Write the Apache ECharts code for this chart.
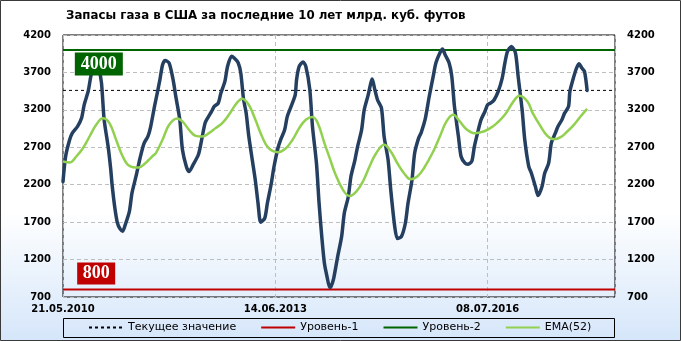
<!DOCTYPE html>
<html>
<head>
<meta charset="utf-8">
<script src="https://cdn.jsdelivr.net/npm/echarts@6/dist/echarts.min.js"></script>
<style>
html,body{margin:0;padding:0;background:#fff}
#c{width:681px;height:341px}
</style>
</head>
<body>
<div id="c"></div>
<script>
// x axis: week index counted from 21.05.2010
const tickWeeks = [0, 160, 320];
const tickLabels = ['21.05.2010', '14.06.2013', '08.07.2016'];
const yTicks = [700, 1200, 1700, 2200, 2700, 3200, 3700, 4200];

// Gas storage, bcf (navy line)
const storageWeek = [0,2,5,7,11,14,16,19,21,23,25,27,29,31,34,36,37,39,41,43,45,47,50,52,55,58,61,64,66,69,70,73,75,77,80,83,85,88,90,93,95,98,102,104,107,109,112,114,117,119,122,124,127,129,132,134,136,138,140,143,145,147,149,152,154,157,159,162,164,167,169,172,175,176,178,181,183,186,188,191,193,195,197,199,201,202,204,207,210,212,215,217,220,222,225,227,230,232,233,235,237,240,242,245,247,250,252,255,258,260,263,265,268,270,273,276,279,281,284,286,288,291,293,295,298,300,303,305,308,310,313,315,318,320,323,325,328,331,333,335,338,341,343,346,348,351,353,356,358,361,363,366,368,371,373,376,378,381,382,385,387,389,391,393,395];
const storageBcf = [2240,2580,2800,2890,2980,3090,3270,3450,3650,3780,3840,3750,3560,3070,2710,2400,2200,1900,1690,1610,1580,1670,1840,2090,2310,2550,2750,2845,2970,3250,3335,3600,3800,3860,3825,3600,3380,3070,2670,2440,2376,2465,2600,2755,3020,3090,3180,3246,3290,3424,3580,3780,3915,3892,3830,3690,3350,3160,2850,2490,2250,1950,1700,1750,1950,2220,2440,2690,2800,2930,3110,3250,3400,3600,3780,3840,3780,3470,2980,2490,1950,1510,1150,970,828,840,950,1240,1510,1820,2040,2310,2530,2710,2930,3200,3400,3560,3611,3470,3335,3223,2844,2532,2131,1640,1480,1506,1685,1952,2264,2621,2822,2900,3080,3379,3647,3825,3959,4013,3937,3825,3647,3246,2844,2577,2487,2474,2510,2710,2933,3067,3179,3268,3299,3335,3446,3625,3825,3981,4048,3959,3647,3201,2800,2443,2354,2175,2055,2175,2354,2487,2755,2889,2978,3067,3156,3246,3446,3647,3758,3816,3758,3714,3460];

// EMA(52) (green line)
const emaWeek = [0,5,10,15,20,25,30,35,40,45,50,57,62,64,68,70,75,80,86,90,95,100,105,110,115,120,125,130,135,140,145,150,155,162,168,173,178,183,188,192,197,201,205,211,216,221,226,231,236,242,247,252,257,262,267,272,279,284,289,294,299,304,310,317,322,327,333,339,344,350,354,360,365,370,375,380,385,390,395];
const emaBcf = [2510,2496,2577,2688,2844,3000,3089,3023,2800,2577,2452,2429,2487,2520,2590,2621,2800,3000,3085,3045,2933,2853,2844,2889,2956,3023,3134,3268,3350,3268,3067,2844,2688,2635,2688,2800,2956,3067,3103,3023,2755,2555,2354,2131,2050,2108,2242,2443,2621,2733,2643,2487,2354,2273,2309,2420,2643,2844,3045,3134,3045,2942,2889,2911,2956,3023,3134,3300,3390,3312,3156,2978,2853,2808,2835,2911,3000,3112,3214];

// Reference levels
const axisEndWeek = 416;
const currentValue = 3460;
const level1 = 800;
const level2 = 4000;
const labelWeek = 27;

const zip = (a, b) => a.map((x, i) => [x, b[i]]);

const chart = echarts.init(document.getElementById('c'), null, {renderer: 'canvas'});
const axisFont = {fontFamily: 'DejaVu Sans', fontWeight: 'bold', fontSize: 10, color: '#000'};
const gridStyle = {color: '#BEBEBE', type: [4, 3], width: 1};
const yMin = yTicks[0], yMax = yTicks[yTicks.length - 1], yStep = yTicks[1] - yTicks[0];

chart.setOption({
  animation: false,
  backgroundColor: new echarts.graphic.LinearGradient(0, 0, 0, 1, [
    {offset: 0, color: '#ffffff'}, {offset: 0.62, color: '#ffffff'}, {offset: 1, color: '#D5E6FA'}]),
  graphic: [
    {type: 'rect', z: 100, silent: true, shape: {x: 0.5, y: 0.5, width: 680, height: 340},
     style: {fill: null, stroke: '#3a3a3a', lineWidth: 1}},
    {type: 'rect', z: 100, silent: true, shape: {x: 63.5, y: 318.5, width: 551, height: 19},
     style: {fill: null, stroke: '#000', lineWidth: 1}}
  ],
  title: {
    text: 'Запасы газа в США за последние 10 лет млрд. куб. футов',
    left: 66, top: 10, padding: 0,
    textStyle: {fontFamily: 'DejaVu Sans', fontWeight: 'bold', fontSize: 11.8, color: '#000'}
  },
  legend: {
    left: 88, top: 322, padding: 0, itemGap: 24, itemWidth: 34, itemHeight: 8,
    itemStyle: {opacity: 0},
    data: ['Текущее значение', 'Уровень-1', 'Уровень-2', 'EMA(52)'],
    textStyle: {fontFamily: 'DejaVu Sans', fontSize: 11, color: '#000'}
  },
  grid: {left: 63, right: 66, top: 35, bottom: 44, show: true, borderColor: '#000', borderWidth: 1, containLabel: false},
  xAxis: {
    type: 'value', min: 0, max: axisEndWeek, interval: tickWeeks[1],
    axisLine: {show: false},
    axisTick: {show: false},
    axisLabel: {margin: 7, ...axisFont, showMaxLabel: false,
      formatter: v => tickLabels[tickWeeks.indexOf(v)] || ''},
    splitLine: {show: true, lineStyle: gridStyle}
  },
  yAxis: [
    {type: 'value', min: yMin, max: yMax, position: 'left',
     axisLine: {show: false}, axisTick: {show: false, customValues: yTicks},
     axisLabel: {customValues: yTicks, margin: 12, ...axisFont, formatter: v => String(v)},
     splitLine: {show: false}},
    {type: 'value', min: yMin, max: yMax, position: 'right',
     axisLine: {show: false}, axisTick: {show: false, customValues: yTicks},
     axisLabel: {customValues: yTicks, margin: 12, ...axisFont, formatter: v => String(v)},
     splitLine: {show: false}},
    // gridline-only axis: same span as the value axis, measured from its minimum
    {type: 'value', min: 0, max: yMax - yMin, interval: yStep, position: 'left', show: true,
     axisLine: {show: false}, axisTick: {show: false}, axisLabel: {show: false},
     splitLine: {show: true, lineStyle: gridStyle}}
  ],
  series: [
    {name: 'Текущее значение', type: 'line', symbol: 'none', z: 3,
     data: [[0, currentValue], [axisEndWeek, currentValue]],
     lineStyle: {color: '#000', width: 1, type: [3, 3]}, itemStyle: {color: '#000'}},
    {name: 'Уровень-1', type: 'line', symbol: 'none', z: 3,
     data: [[0, level1], [axisEndWeek, level1]],
     lineStyle: {color: '#C00000', width: 2}, itemStyle: {color: '#C00000'},
     markPoint: {symbol: 'rect', symbolSize: [38, 22], symbolOffset: [0, -16], z: 20,
       itemStyle: {color: '#C00000'},
       label: {show: true, position: 'inside', color: '#fff', fontFamily: 'Liberation Serif', fontWeight: 'bold', fontSize: 18, formatter: String(level1)},
       data: [{coord: [labelWeek - 2, level1]}]}},
    {name: 'Уровень-2', type: 'line', symbol: 'none', z: 3,
     data: [[0, level2], [axisEndWeek, level2]],
     lineStyle: {color: '#006400', width: 2}, itemStyle: {color: '#006400'},
     markPoint: {symbol: 'rect', symbolSize: [48, 23], symbolOffset: [0, 14], z: 20,
       itemStyle: {color: '#006400'},
       label: {show: true, position: 'inside', color: '#fff', fontFamily: 'Liberation Serif', fontWeight: 'bold', fontSize: 18, formatter: String(level2)},
       data: [{coord: [labelWeek, level2]}]}},
    {name: 'Запасы', type: 'line', symbol: 'none', z: 4, smooth: 0.25,
     data: zip(storageWeek, storageBcf),
     lineStyle: {color: '#243F60', width: 3.5, join: 'round', cap: 'round'}},
    {name: 'EMA(52)', type: 'line', symbol: 'none', z: 5, smooth: 0.4,
     data: zip(emaWeek, emaBcf),
     lineStyle: {color: '#92D050', width: 2.5}, itemStyle: {color: '#92D050'}}
  ]
});
</script>
</body>
</html>
